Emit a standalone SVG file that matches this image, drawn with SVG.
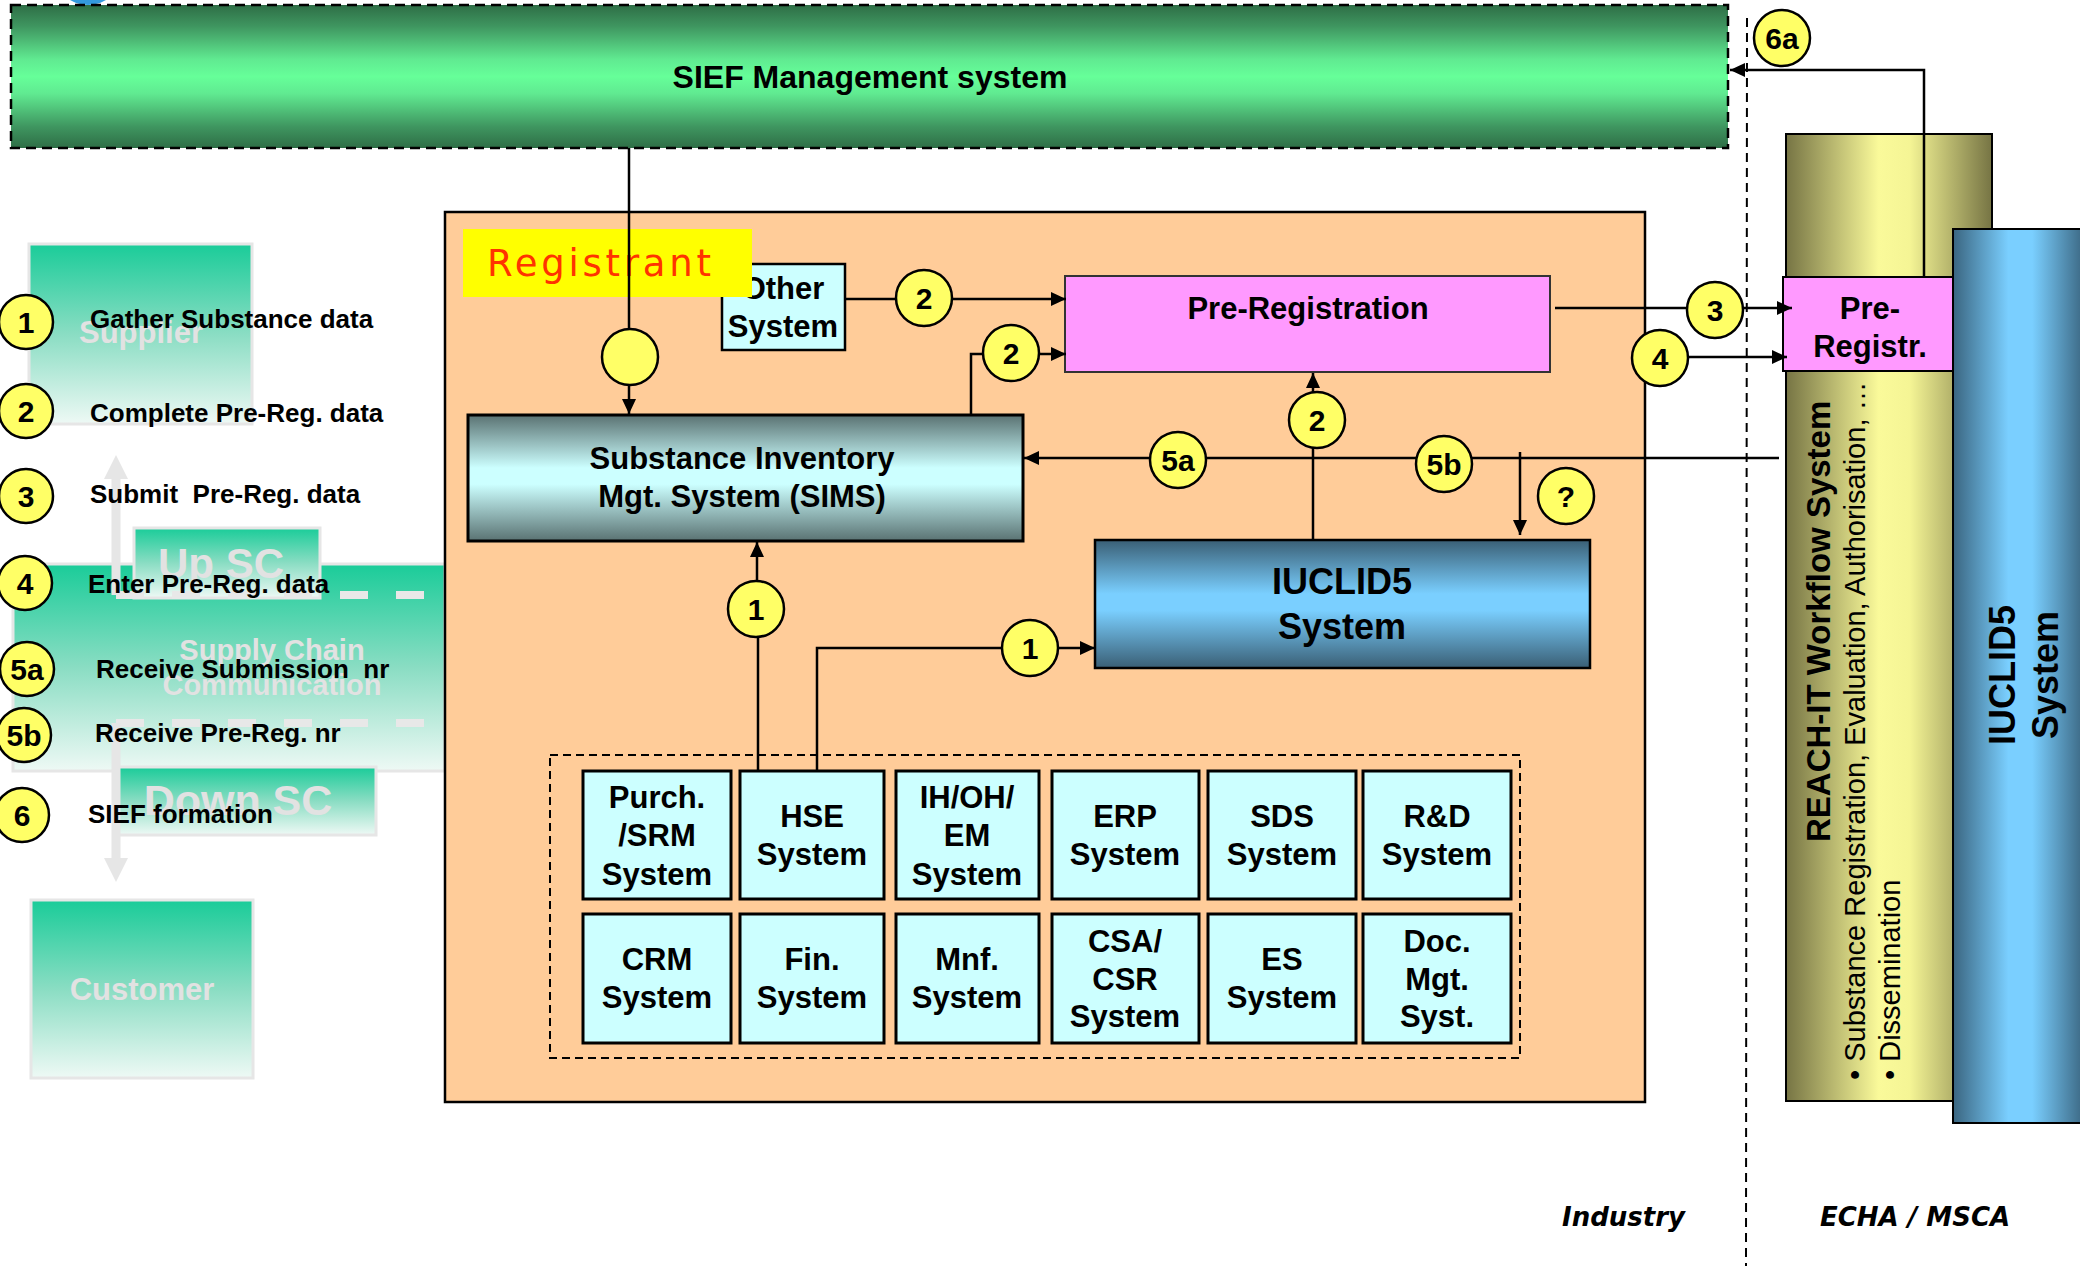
<svg xmlns="http://www.w3.org/2000/svg" width="2080" height="1266" viewBox="0 0 2080 1266">
<defs>
<style>
.b{font-family:"Liberation Sans",Arial,sans-serif;font-weight:bold;fill:#000}
.r{font-family:"Liberation Sans",Arial,sans-serif;fill:#000}
.ghost{font-family:"Liberation Sans",Arial,sans-serif;font-weight:bold;fill:#E2E2E2;text-anchor:middle}
.leg{font-size:26px}
.num{font-size:30px;text-anchor:middle}
.mid{text-anchor:middle}
.cy{fill:#FFFF66;stroke:#000;stroke-width:2.5}
.ln{fill:none;stroke:#000;stroke-width:2.5}
.lna{fill:none;stroke:#000;stroke-width:2.5;marker-end:url(#ah)}
.cell{fill:#CCFFFF;stroke:#000;stroke-width:3}
.gbox{stroke:#E6E6E6;stroke-width:3}
.cap{font-family:"DejaVu Sans",Verdana,sans-serif;font-weight:bold;font-style:italic;font-size:26px;fill:#000}
</style>
<marker id="ah" markerUnits="userSpaceOnUse" markerWidth="16" markerHeight="14" refX="15" refY="7" orient="auto"><path d="M0,0 L15,7 L0,14 z" fill="#000"/></marker>
<marker id="gh" markerUnits="userSpaceOnUse" markerWidth="24" markerHeight="24" refX="2" refY="12" orient="auto"><path d="M0,0 L24,12 L0,24 z" fill="#E6E6E6"/></marker>
<linearGradient id="gSief" x1="0" y1="0" x2="0" y2="1">
<stop offset="0" stop-color="#2E6E46"/><stop offset="0.15" stop-color="#3F9660"/><stop offset="0.38" stop-color="#60EA91"/><stop offset="0.5" stop-color="#66FF99"/><stop offset="0.62" stop-color="#60EA91"/><stop offset="0.85" stop-color="#3F9660"/><stop offset="1" stop-color="#2E6E46"/>
</linearGradient>
<linearGradient id="gSims" x1="0" y1="0" x2="0" y2="1">
<stop offset="0" stop-color="#5A7272"/><stop offset="0.42" stop-color="#CCFFFF"/><stop offset="0.55" stop-color="#CCFFFF"/><stop offset="1" stop-color="#5A7272"/>
</linearGradient>
<linearGradient id="gIuc" x1="0" y1="0" x2="0" y2="1">
<stop offset="0" stop-color="#3A5F75"/><stop offset="0.42" stop-color="#7ACFFF"/><stop offset="0.55" stop-color="#7ACFFF"/><stop offset="1" stop-color="#3A5F75"/>
</linearGradient>
<linearGradient id="gIucH" x1="0" y1="0" x2="1" y2="0">
<stop offset="0" stop-color="#3A6580"/><stop offset="0.42" stop-color="#7ACFFF"/><stop offset="0.6" stop-color="#7ACFFF"/><stop offset="1" stop-color="#3A6580"/>
</linearGradient>
<linearGradient id="gReach" x1="0" y1="0" x2="1" y2="0">
<stop offset="0" stop-color="#767444"/><stop offset="0.45" stop-color="#FAFA9A"/><stop offset="0.6" stop-color="#F5F595"/><stop offset="1" stop-color="#767444"/>
</linearGradient>
<linearGradient id="gTeal" x1="0" y1="0" x2="0" y2="1">
<stop offset="0" stop-color="#1ACC99"/><stop offset="0.5" stop-color="#8ADDC3"/><stop offset="1" stop-color="#EEF9F5"/>
</linearGradient>
</defs>
<rect x="0" y="0" width="2080" height="1266" fill="#FFFFFF"/>
<ellipse cx="88" cy="-22" rx="31" ry="27" fill="#3399DD"/>

<g id="sief">
<rect x="11" y="5" width="1717" height="143" fill="url(#gSief)" stroke="#000" stroke-width="2.5" stroke-dasharray="10 6"/>
<text class="b mid" x="870" y="88" font-size="32">SIEF Management system</text>
</g>

<g id="supply-chain-background">
<rect class="gbox" x="29" y="244" width="223" height="180" fill="url(#gTeal)"/>
<text class="ghost" x="141" y="343" font-size="31">Supplier</text>
<rect class="gbox" x="13" y="564" width="432" height="207" fill="url(#gTeal)"/>
<rect class="gbox" x="134" y="528" width="186" height="70" fill="url(#gTeal)"/>
<text class="ghost" x="221" y="578" font-size="42">Up SC</text>
<text class="ghost" x="272" y="660" font-size="29">Supply Chain</text>
<text class="ghost" x="272" y="695" font-size="29">Communication</text>
<rect class="gbox" x="117" y="767" width="259" height="68" fill="url(#gTeal)"/>
<text class="ghost" x="238" y="815" font-size="43">Down SC</text>
<line x1="116" y1="595" x2="424" y2="595" stroke="#E8E8E8" stroke-width="8" stroke-dasharray="28 28"/>
<line x1="116" y1="723" x2="424" y2="723" stroke="#E8E8E8" stroke-width="8" stroke-dasharray="28 28"/>
<line x1="116" y1="595" x2="116" y2="477" stroke="#E6E6E6" stroke-width="9" marker-end="url(#gh)"/>
<line x1="116" y1="723" x2="116" y2="860" stroke="#E6E6E6" stroke-width="9" marker-end="url(#gh)"/>
<rect class="gbox" x="31" y="900" width="222" height="178" fill="url(#gTeal)"/>
<text class="ghost" x="142" y="1000" font-size="31">Customer</text>
</g>

<g id="legend">
<circle class="cy" cx="26" cy="322" r="27"/><text class="b num" x="26" y="333">1</text>
<text class="b leg" x="90" y="328">Gather Substance data</text>
<circle class="cy" cx="26" cy="411" r="27"/><text class="b num" x="26" y="422">2</text>
<text class="b leg" x="90" y="422">Complete Pre-Reg. data</text>
<circle class="cy" cx="26" cy="496" r="27"/><text class="b num" x="26" y="507">3</text>
<text class="b leg" x="90" y="503" xml:space="preserve">Submit  Pre-Reg. data</text>
<circle class="cy" cx="25" cy="583" r="27"/><text class="b num" x="25" y="594">4</text>
<text class="b leg" x="88" y="593">Enter Pre-Reg. data</text>
<circle class="cy" cx="27" cy="669" r="27"/><text class="b num" x="27" y="680">5a</text>
<text class="b leg" x="96" y="678" xml:space="preserve">Receive Submission  nr</text>
<circle class="cy" cx="24" cy="735" r="27"/><text class="b num" x="24" y="746">5b</text>
<text class="b leg" x="95" y="742">Receive Pre-Reg. nr</text>
<circle class="cy" cx="22" cy="815" r="27"/><text class="b num" x="22" y="826">6</text>
<text class="b leg" x="88" y="823">SIEF formation</text>
</g>

<g id="registrant">
<rect x="445" y="212" width="1200" height="890" fill="#FFCC99" stroke="#000" stroke-width="2.5"/>
</g>

<g id="other-system">
<rect x="722" y="264" width="123" height="86" fill="#CCFFFF" stroke="#000" stroke-width="2.5"/>
<text class="b mid" x="783" y="299" font-size="31">Other</text>
<text class="b mid" x="783" y="337" font-size="31">System</text>
</g>

<g id="registrant-label">
<rect x="463" y="229" width="289" height="68" fill="#FFFF00"/>
<text x="487" y="276" font-family="'DejaVu Sans',Verdana,sans-serif" font-size="37" fill="#FF3300" textLength="224" lengthAdjust="spacing">Registrant</text>
</g>

<g id="sims">
<rect x="468" y="415" width="555" height="126" fill="url(#gSims)" stroke="#000" stroke-width="3"/>
<text class="b mid" x="742" y="469" font-size="31">Substance Inventory</text>
<text class="b mid" x="742" y="507" font-size="31">Mgt. System (SIMS)</text>
</g>

<g id="pre-registration">
<rect x="1065" y="276" width="485" height="96" fill="#FF99FF" stroke="#333" stroke-width="2"/>
<text class="b mid" x="1308" y="319" font-size="31">Pre-Registration</text>
</g>

<g id="iuclid5">
<rect x="1095" y="540" width="495" height="128" fill="url(#gIuc)" stroke="#000" stroke-width="2.5"/>
<text class="b mid" x="1342" y="594" font-size="36">IUCLID5</text>
<text class="b mid" x="1342" y="639" font-size="36">System</text>
</g>

<g id="systems">
<rect x="550" y="755" width="970" height="303" fill="none" stroke="#000" stroke-width="2" stroke-dasharray="8 5"/>
<g id="purch"><rect class="cell" x="583" y="771" width="148" height="128"/><text class="b mid" font-size="31"><tspan x="657" y="808">Purch.</tspan><tspan x="657" y="846">/SRM</tspan><tspan x="657" y="885">System</tspan></text></g>
<g id="hse"><rect class="cell" x="740" y="771" width="144" height="128"/><text class="b mid" font-size="31"><tspan x="812" y="827">HSE</tspan><tspan x="812" y="865">System</tspan></text></g>
<g id="ihoh"><rect class="cell" x="896" y="771" width="143" height="128"/><text class="b mid" font-size="31"><tspan x="967" y="808">IH/OH/</tspan><tspan x="967" y="846">EM</tspan><tspan x="967" y="885">System</tspan></text></g>
<g id="erp"><rect class="cell" x="1052" y="771" width="147" height="128"/><text class="b mid" font-size="31"><tspan x="1125" y="827">ERP</tspan><tspan x="1125" y="865">System</tspan></text></g>
<g id="sds"><rect class="cell" x="1208" y="771" width="148" height="128"/><text class="b mid" font-size="31"><tspan x="1282" y="827">SDS</tspan><tspan x="1282" y="865">System</tspan></text></g>
<g id="rd"><rect class="cell" x="1363" y="771" width="148" height="128"/><text class="b mid" font-size="31"><tspan x="1437" y="827">R&amp;D</tspan><tspan x="1437" y="865">System</tspan></text></g>
<g id="crm"><rect class="cell" x="583" y="914" width="148" height="129"/><text class="b mid" font-size="31"><tspan x="657" y="970">CRM</tspan><tspan x="657" y="1008">System</tspan></text></g>
<g id="fin"><rect class="cell" x="740" y="914" width="144" height="129"/><text class="b mid" font-size="31"><tspan x="812" y="970">Fin.</tspan><tspan x="812" y="1008">System</tspan></text></g>
<g id="mnf"><rect class="cell" x="896" y="914" width="143" height="129"/><text class="b mid" font-size="31"><tspan x="967" y="970">Mnf.</tspan><tspan x="967" y="1008">System</tspan></text></g>
<g id="csa"><rect class="cell" x="1052" y="914" width="147" height="129"/><text class="b mid" font-size="31"><tspan x="1125" y="952">CSA/</tspan><tspan x="1125" y="990">CSR</tspan><tspan x="1125" y="1027">System</tspan></text></g>
<g id="es"><rect class="cell" x="1208" y="914" width="148" height="129"/><text class="b mid" font-size="31"><tspan x="1282" y="970">ES</tspan><tspan x="1282" y="1008">System</tspan></text></g>
<g id="doc"><rect class="cell" x="1363" y="914" width="148" height="129"/><text class="b mid" font-size="31"><tspan x="1437" y="952">Doc.</tspan><tspan x="1437" y="990">Mgt.</tspan><tspan x="1437" y="1027">Syst.</tspan></text></g>
</g>

<g id="reach-it">
<rect x="1786" y="134" width="206" height="967" fill="url(#gReach)" stroke="#000" stroke-width="2"/>
<text class="b" font-size="33" transform="translate(1830,842) rotate(-90)">REACH-IT Workflow System</text>
<text class="r" font-size="29" transform="translate(1865,1080) rotate(-90)">• Substance Registration, Evaluation, Authorisation, …</text>
<text class="r" font-size="29" transform="translate(1900,1080) rotate(-90)">• Dissemination</text>
</g>

<g id="iuclid5-echa">
<rect x="1953" y="229" width="132" height="894" fill="url(#gIucH)" stroke="#000" stroke-width="2"/>
<text class="b mid" font-size="36" transform="translate(2015,675) rotate(-90)">IUCLID5</text>
<text class="b mid" font-size="36" transform="translate(2058,675) rotate(-90)">System</text>
</g>

<g id="pre-registr">
<rect x="1783" y="277" width="170" height="94" fill="#FF99FF" stroke="#000" stroke-width="2"/>
<text class="b mid" x="1870" y="319" font-size="31">Pre-</text>
<text class="b mid" x="1870" y="357" font-size="31">Registr.</text>
</g>

<g id="divider">
<line x1="1747" y1="18" x2="1746" y2="1266" stroke="#000" stroke-width="2" stroke-dasharray="9 6"/>
<text class="cap" x="1562" y="1226">Industry</text>
<text class="cap" x="1820" y="1226">ECHA / MSCA</text>
</g>

<g id="connectors">
<line class="ln" x1="629" y1="148" x2="629" y2="330"/>
<line class="lna" x1="629" y1="385" x2="629" y2="414"/>
<line class="ln" x1="845" y1="299" x2="900" y2="299"/>
<line class="lna" x1="950" y1="299" x2="1066" y2="299"/>
<polyline class="ln" points="971,415 971,354 986,354"/>
<line class="lna" x1="1037" y1="354" x2="1066" y2="354"/>
<line class="ln" x1="1313" y1="540" x2="1313" y2="446"/>
<line class="lna" x1="1313" y1="394" x2="1313" y2="373"/>
<line class="lna" x1="1779" y1="458" x2="1024" y2="458"/>
<line class="lna" x1="1520" y1="452" x2="1520" y2="535"/>
<line class="lna" x1="1555" y1="308" x2="1792" y2="308"/>
<line class="lna" x1="1686" y1="357" x2="1787" y2="357"/>
<polyline class="lna" points="1924,277 1924,70 1730,70"/>
<line class="ln" x1="758" y1="771" x2="758" y2="636"/>
<line class="lna" x1="757" y1="582" x2="757" y2="542"/>
<polyline class="ln" points="817,771 817,648 1003,648"/>
<line class="lna" x1="1057" y1="648" x2="1095" y2="648"/>
</g>

<g id="markers">
<circle class="cy" cx="630" cy="357" r="28"/>
<circle class="cy" cx="924" cy="298" r="28"/><text class="b num" x="924" y="309">2</text>
<circle class="cy" cx="1011" cy="353" r="28"/><text class="b num" x="1011" y="364">2</text>
<circle class="cy" cx="1317" cy="420" r="28"/><text class="b num" x="1317" y="431">2</text>
<circle class="cy" cx="1178" cy="460" r="28"/><text class="b num" x="1178" y="471">5a</text>
<circle class="cy" cx="1444" cy="464" r="28"/><text class="b num" x="1444" y="475">5b</text>
<circle class="cy" cx="1566" cy="496" r="28"/><text class="b num" x="1566" y="507">?</text>
<circle class="cy" cx="1715" cy="310" r="28"/><text class="b num" x="1715" y="321">3</text>
<circle class="cy" cx="1660" cy="358" r="28"/><text class="b num" x="1660" y="369">4</text>
<circle class="cy" cx="1782" cy="38" r="28"/><text class="b num" x="1782" y="49">6a</text>
<circle class="cy" cx="756" cy="609" r="28"/><text class="b num" x="756" y="620">1</text>
<circle class="cy" cx="1030" cy="648" r="28"/><text class="b num" x="1030" y="659">1</text>
</g>
</svg>
